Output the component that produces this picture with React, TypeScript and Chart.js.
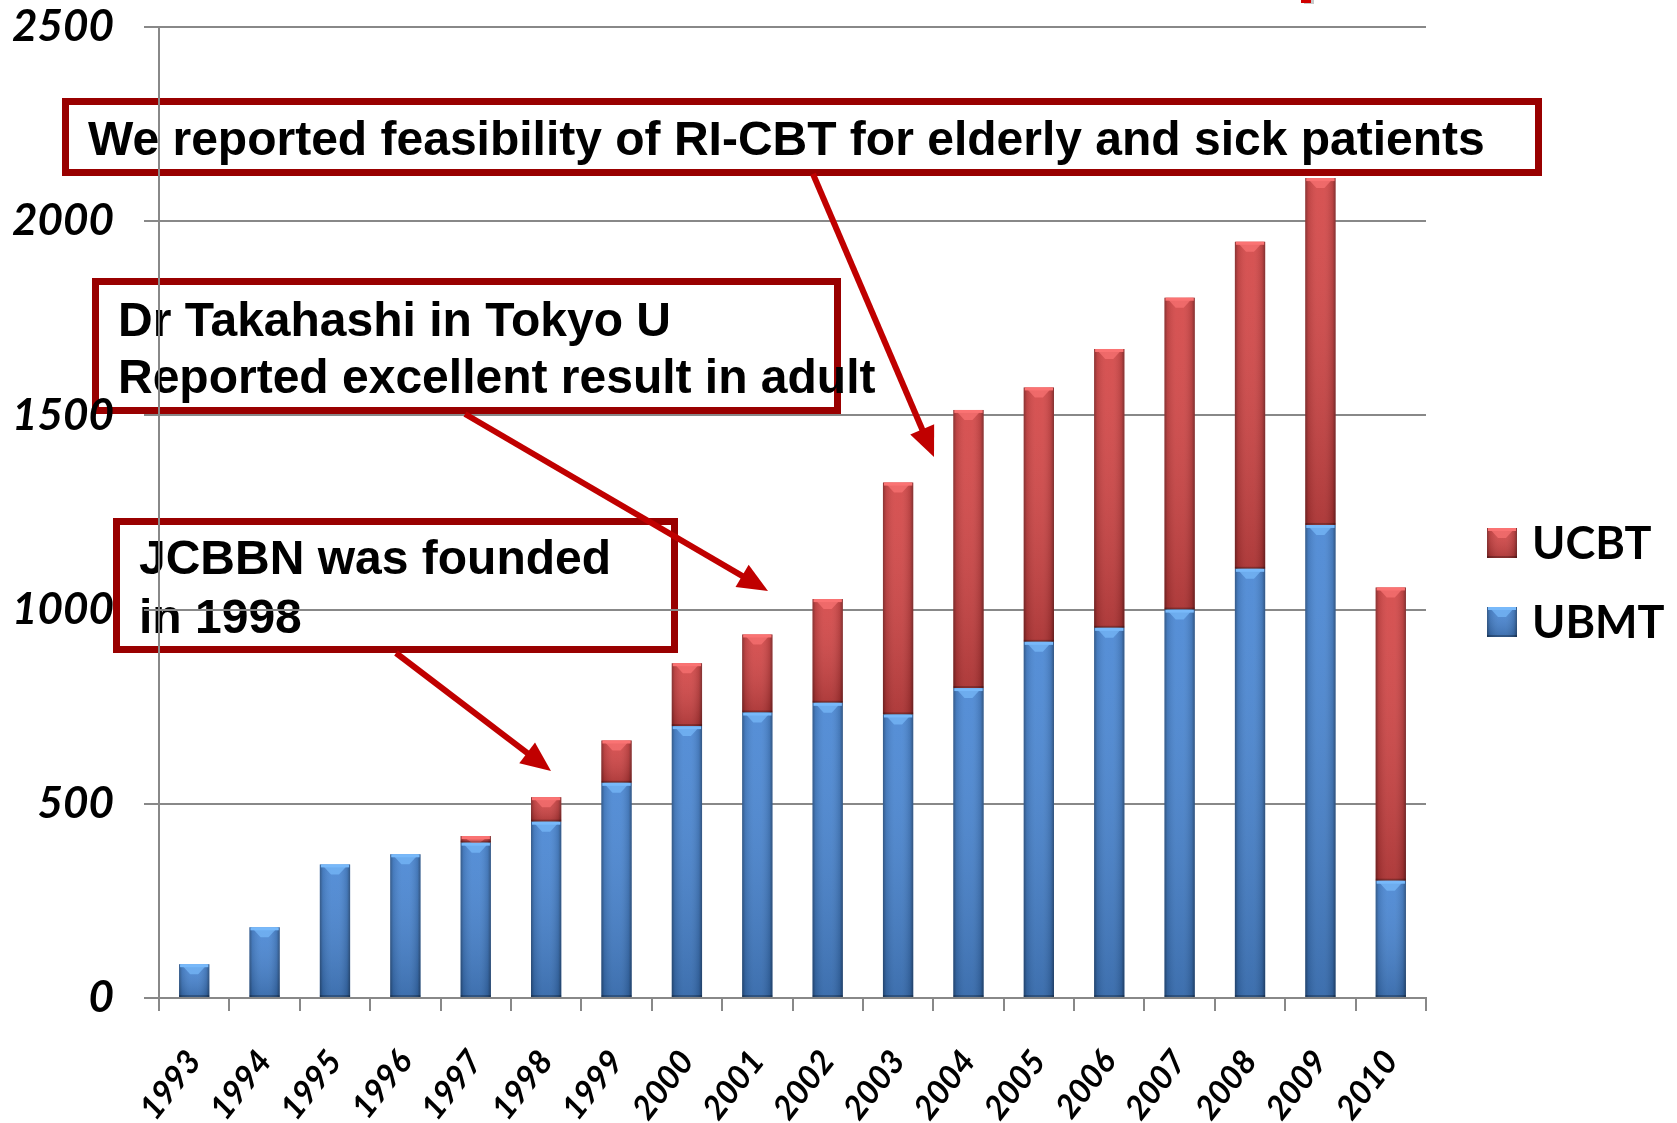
import React, { useEffect, useRef } from 'react';
import { Chart, registerables } from 'chart.js';

Chart.register(...registerables);

const years = ['1993', '1994', '1995', '1996', '1997', '1998', '1999', '2000', '2001', '2002', '2003', '2004', '2005', '2006', '2007', '2008', '2009', '2010'];
const ubmt = [87, 182, 344, 370, 400, 454, 554, 700, 735, 760, 730, 798, 917, 953, 1000, 1105, 1218, 302];
const ucbt = [0, 0, 0, 0, 17, 63, 109, 162, 201, 267, 597, 716, 655, 718, 803, 842, 893, 755];
const yTicks = [0, 500, 1000, 1500, 2000, 2500];
const seriesNames = ['UBMT', 'UCBT'];

const noteFeasibility = ['We reported feasibility of RI-CBT for elderly and sick patients'];
const noteTakahashi = ['Dr Takahashi in Tokyo U', 'Reported excellent result in adult'];
const noteJcbbn = ['JCBBN was founded', 'in 1998'];

const BLUE = '#4282D2';
const RED = '#D23F3F';
const BOX_RED = '#990000';
const ARROW_RED = '#C00000';
const GRID = '#888888';

const noteBoxes = [
  { lines: noteFeasibility, rect: [62, 98, 1542, 176], tx: 88, ty: [142] },
  { lines: noteTakahashi, rect: [92, 278, 841, 414], tx: 118, ty: [323, 380] },
  { lines: noteJcbbn, rect: [113, 518, 678, 653], tx: 139, ty: [561, 620] },
];

const noteArrows = [
  [813, 174, 934, 457],
  [465, 414, 768, 591],
  [396, 653, 551, 771],
];

const boxesPlugin = {
  id: 'noteBoxes',
  beforeDraw(chart: any) {
    const ctx = chart.ctx as CanvasRenderingContext2D;
    ctx.save();
    for (const b of noteBoxes) {
      const [x1, y1, x2, y2] = b.rect;
      ctx.lineWidth = 7;
      ctx.strokeStyle = BOX_RED;
      ctx.strokeRect(x1 + 3.5, y1 + 3.5, x2 - x1 - 7, y2 - y1 - 7);
      ctx.fillStyle = '#000';
      ctx.font = 'bold 48px "Liberation Sans", Arial, sans-serif';
      ctx.textBaseline = 'middle';
      ctx.textAlign = 'left';
      b.lines.forEach((t, i) => ctx.fillText(t, b.tx, b.ty[i]));
    }
    ctx.restore();
  },
};

const arrowsPlugin = {
  id: 'noteArrows',
  afterDraw(chart: any) {
    const ctx = chart.ctx as CanvasRenderingContext2D;
    ctx.save();
    ctx.strokeStyle = ARROW_RED;
    ctx.fillStyle = ARROW_RED;
    ctx.lineWidth = 6;
    for (const [sx, sy, ex, ey] of noteArrows) {
      const ang = Math.atan2(ey - sy, ex - sx);
      const hl = 30, hw = 13;
      const bx = ex - hl * Math.cos(ang), by = ey - hl * Math.sin(ang);
      ctx.beginPath();
      ctx.moveTo(sx, sy);
      ctx.lineTo(bx + 2 * Math.cos(ang), by + 2 * Math.sin(ang));
      ctx.stroke();
      ctx.beginPath();
      ctx.moveTo(ex, ey);
      ctx.lineTo(bx + hw * Math.sin(ang), by - hw * Math.cos(ang));
      ctx.lineTo(bx - hw * Math.sin(ang), by + hw * Math.cos(ang));
      ctx.closePath();
      ctx.fill();
    }
    ctx.fillStyle = '#c8c8c8';
    ctx.fillRect(1304, 0, 10, 4);
    ctx.fillStyle = '#d00000';
    ctx.fillRect(1301, 0, 10, 3);
    ctx.restore();
  },
};

function shadeBar(ctx: CanvasRenderingContext2D, l: number, top: number, w: number, h: number, light: string) {
  const r = l + w;
  const gh = ctx.createLinearGradient(l, 0, r, 0);
  gh.addColorStop(0, 'rgba(0,0,0,0.38)');
  gh.addColorStop(0.1, 'rgba(0,0,0,0.12)');
  gh.addColorStop(0.4, 'rgba(255,255,255,0.05)');
  gh.addColorStop(0.6, 'rgba(255,255,255,0.05)');
  gh.addColorStop(0.9, 'rgba(0,0,0,0.14)');
  gh.addColorStop(1, 'rgba(0,0,0,0.42)');
  ctx.fillStyle = gh;
  ctx.fillRect(l, top, w, h);
  const gv = ctx.createLinearGradient(0, top, 0, top + h);
  gv.addColorStop(0, 'rgba(255,255,255,0.06)');
  gv.addColorStop(1, 'rgba(0,0,0,0.18)');
  ctx.fillStyle = gv;
  ctx.fillRect(l, top, w, h);
  const bh = Math.min(10, h);
  const x = l + w / 2;
  ctx.fillStyle = light;
  ctx.fillRect(l + 1, top, w - 2, Math.min(3, h));
  ctx.beginPath();
  ctx.moveTo(l + 2, top);
  ctx.lineTo(r - 2, top);
  ctx.lineTo(x + 4, top + bh);
  ctx.lineTo(x - 4, top + bh);
  ctx.closePath();
  ctx.globalAlpha = 0.7;
  ctx.fill();
  ctx.globalAlpha = 1;
  if (h > 4) {
    ctx.fillStyle = 'rgba(0,0,0,0.25)';
    ctx.fillRect(l, top + h - 2, w, 2);
  }
}

const barStylePlugin = {
  id: 'barStyle',
  afterDatasetsDraw(chart: any) {
    const ctx = chart.ctx as CanvasRenderingContext2D;
    ctx.save();
    chart.data.datasets.forEach((_ds: any, di: number) => {
      const meta = chart.getDatasetMeta(di);
      const light = di === 0 ? 'rgba(120,185,250,1)' : 'rgba(250,115,115,1)';
      meta.data.forEach((el: any) => {
        const { x, y, base, width } = el.getProps(['x', 'y', 'base', 'width'], true);
        const top = Math.min(y, base);
        const h = Math.abs(base - y);
        if (h < 1) return;
        shadeBar(ctx, x - width / 2, top, width, h, light);
      });
    });
    ctx.restore();
  },
};

const legendPlugin = {
  id: 'customLegend',
  afterDraw(chart: any) {
    const ctx = chart.ctx as CanvasRenderingContext2D;
    const area = chart.chartArea;
    const items = chart.data.datasets.map((d: any) => ({ label: d.label, color: d.backgroundColor })).reverse();
    const lights = ['rgba(250,115,115,1)', 'rgba(120,185,250,1)'];
    const x0 = area.right + 61;
    const centers = [543, 622];
    ctx.save();
    items.forEach((it: any, i: number) => {
      const cy = centers[i];
      ctx.fillStyle = it.color;
      ctx.fillRect(x0, cy - 15, 30, 30);
      shadeBar(ctx, x0, cy - 15, 30, 30, lights[i]);
      ctx.fillStyle = '#000';
      ctx.font = 'bold 45px Lato, "Open Sans", sans-serif';
      ctx.textBaseline = 'middle';
      ctx.textAlign = 'left';
      ctx.fillText(it.label, x0 + 45, cy + 1);
    });
    ctx.restore();
  },
};

export default function App() {
  const ref = useRef<HTMLCanvasElement>(null);
  useEffect(() => {
    const tickFont = { family: 'Lato, "Open Sans", sans-serif', weight: 'bold' as const, style: 'italic' as const };
    const chart = new Chart(ref.current as HTMLCanvasElement, {
      type: 'bar',
      data: {
        labels: years,
        datasets: [
          { label: seriesNames[0], data: ubmt, backgroundColor: BLUE, borderWidth: 0, barPercentage: 0.43, categoryPercentage: 1 },
          { label: seriesNames[1], data: ucbt, backgroundColor: RED, borderWidth: 0, barPercentage: 0.43, categoryPercentage: 1 },
        ],
      },
      options: {
        responsive: false,
        animation: false,
        devicePixelRatio: 1,
        layout: { padding: { top: 27, right: 251, left: 0, bottom: 0 } },
        plugins: { legend: { display: false }, tooltip: { enabled: false } },
        scales: {
          x: {
            stacked: true,
            grid: { drawOnChartArea: false, drawTicks: true, tickLength: 13, color: GRID, lineWidth: 2 },
            border: { color: GRID, width: 2 },
            ticks: { autoSkip: false, maxRotation: 52, minRotation: 52, padding: 32, color: '#000', font: { ...tickFont, size: 33 } },
            afterFit: (s: any) => { s.height = 125; s.paddingLeft = 0; s.paddingRight = 0; },
          },
          y: {
            stacked: true,
            min: 0,
            max: 2500,
            afterBuildTicks: (s: any) => { s.ticks = yTicks.map((v) => ({ value: v })); },
            ticks: { padding: 30, color: '#000', font: { ...tickFont, size: 44 }, callback: (v: any) => String(v) },
            grid: { color: GRID, lineWidth: 2, tickLength: 15 },
            border: { color: GRID, width: 2 },
            afterFit: (s: any) => { s.width = 159; s.paddingTop = 0; s.paddingBottom = 0; },
          },
        },
      } as any,
      plugins: [boxesPlugin, barStylePlugin, legendPlugin, arrowsPlugin],
    });
    return () => chart.destroy();
  }, []);
  return (
    <div style={{ position: 'fixed', left: 0, top: 0, width: 1677, height: 1123, background: '#fff' }}>
      <canvas ref={ref} width={1677} height={1123} style={{ display: 'block' }} />
    </div>
  );
}
